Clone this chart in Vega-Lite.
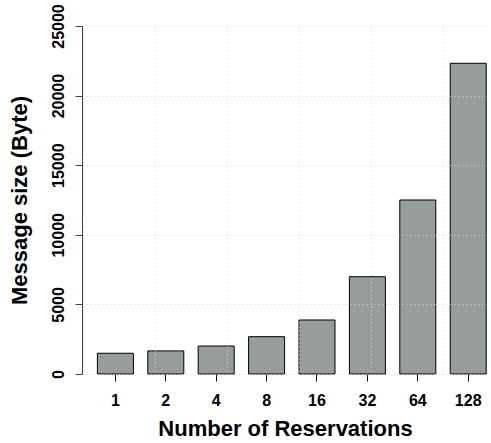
{
  "$schema": "https://vega.github.io/schema/vega-lite/v6.json",
  "width": 406,
  "height": 348,
  "autosize": {"type": "none"},
  "padding": {"left": 82, "top": 26, "right": 3, "bottom": 69},
  "background": "white",
  "config": {
    "view": {"stroke": null},
    "font": "Liberation Sans"
  },
  "data": {
    "values": [
      {"reservations": 1, "size": 1490},
      {"reservations": 2, "size": 1660},
      {"reservations": 4, "size": 2010},
      {"reservations": 8, "size": 2680},
      {"reservations": 16, "size": 3880},
      {"reservations": 32, "size": 6990},
      {"reservations": 64, "size": 12500},
      {"reservations": 128, "size": 22320}
    ]
  },
  "layer": [
    {
      "mark": {"type": "rule", "opacity": 0},
      "encoding": {
        "x": {
          "datum": 0,
          "type": "quantitative",
          "scale": {"domain": [-0.03, 11.25], "nice": false, "zero": false},
          "axis": {
            "orient": "top",
            "values": [0, 2, 4, 6, 8, 10],
            "grid": true,
            "gridColor": "#d3d3d3",
            "gridDash": [1, 3],
            "gridWidth": 1,
            "labels": false,
            "ticks": false,
            "domain": false,
            "title": null,
            "zindex": 1
          }
        }
      }
    },
    {
      "mark": {"type": "bar", "fill": "#979d9a", "stroke": "black", "strokeWidth": 1},
      "encoding": {
        "x": {
          "field": "reservations",
          "type": "ordinal",
          "scale": {"paddingInner": 0.2857, "paddingOuter": 0.1706, "align": 0.895},
          "axis": {
            "orient": "bottom",
            "domain": false,
            "grid": false,
            "ticks": true,
            "tickColor": "black",
            "tickSize": 7,
            "tickWidth": 1,
            "labelAngle": 0,
            "labelPadding": 11,
            "labelFont": "Liberation Sans",
            "labelFontSize": 16,
            "labelFontWeight": "bold",
            "labelColor": "black",
            "title": "Number of Reservations",
            "titleFont": "Liberation Sans",
            "titleFontSize": 22,
            "titleFontWeight": "bold",
            "titleColor": "black",
            "titlePadding": 10
          }
        },
        "y": {
          "field": "size",
          "type": "quantitative",
          "scale": {"domain": [0, 25000], "nice": false, "zero": true},
          "axis": {
            "values": [0, 5000, 10000, 15000, 20000, 25000],
            "format": "d",
            "grid": true,
            "gridColor": "#d3d3d3",
            "gridDash": [1, 3],
            "gridWidth": 1,
            "domainColor": "#444",
            "domainWidth": 1,
            "tickColor": "#444",
            "tickSize": 7,
            "tickWidth": 1,
            "labelAngle": -90,
            "labelAlign": "center",
            "labelBaseline": "alphabetic",
            "labelPadding": 12,
            "labelFlush": false,
            "labelOverlap": false,
            "labelFont": "Liberation Sans",
            "labelFontSize": 16,
            "labelFontWeight": "bold",
            "labelColor": "black",
            "title": "Message size (Byte)",
            "titleFont": "Liberation Sans",
            "titleFontSize": 22,
            "titleFontWeight": "bold",
            "titleColor": "black",
            "titlePadding": 19,
            "zindex": 1
          }
        }
      }
    }
  ],
  "resolve": {"scale": {"x": "independent"}, "axis": {"x": "independent"}}
}
